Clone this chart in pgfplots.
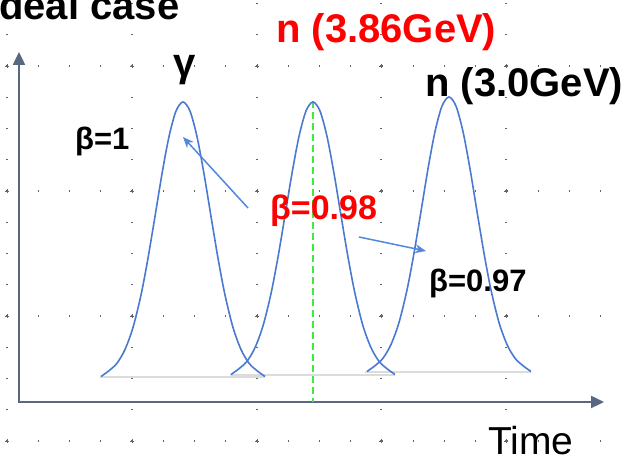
\documentclass[border=0pt]{standalone}
\usepackage{pgfplots}
\pgfplotsset{compat=1.18}
\usepackage{fontspec}
\setmainfont{Liberation Sans}
\usetikzlibrary{arrows.meta}
\definecolor{curveblue}{RGB}{74,122,208}
\definecolor{arrowblue}{RGB}{80,135,225}
\definecolor{axisgray}{RGB}{88,104,130}
\definecolor{brightgreen}{RGB}{60,235,60}
\definecolor{dotgray}{RGB}{100,100,100}
\definecolor{basegray}{RGB}{220,220,220}
\newcommand{\fs}[1]{\fontsize{#1}{#1}\selectfont}
\begin{document}
\begin{tikzpicture}
\begin{axis}[
  scale only axis, width=630pt, height=460pt,
  xmin=0, xmax=630, ymin=0, ymax=460,
  axis line style={draw=none},
  tick style={draw=none},
  xtick={7,132,257,381,506}, ytick={19,144,269,394},
  xticklabels={}, yticklabels={},
  grid=major,
  major x grid style={draw=dotgray, line width=1.3pt, line cap=butt, dash pattern=on 1.3pt off 29.95pt, dash phase=12.9pt},
  major y grid style={draw=dotgray, line width=1.3pt, line cap=butt, dash pattern=on 1.3pt off 29.95pt, dash phase=24.9pt},
  clip=false,
]
% major grid crosses
\addplot[only marks, mark=+, mark size=2.2pt, dotgray, mark options={line width=0.8pt}] coordinates {
 (7,19) (132,19) (257,19) (381,19) (506,19)
 (7,144) (132,144) (257,144) (381,144) (506,144)
 (7,269) (132,269) (257,269) (381,269) (506,269)
 (7,394) (132,394) (257,394) (381,394) (506,394)
};
% base lines
\addplot[basegray, line width=1.2pt] coordinates {(100,83) (265,83)};
\addplot[basegray, line width=1.2pt] coordinates {(230,85) (395,85)};
\addplot[basegray, line width=1.2pt] coordinates {(365,88) (531,88)};
% axes arrows
\addplot[axisgray, line width=2.4pt, -{Triangle[length=13pt,width=12pt]}] coordinates {(19,57) (19,408)};
\addplot[axisgray, line width=2.4pt, -{Triangle[length=13pt,width=12pt]}] coordinates {(18,58) (604,58)};
% green dashed line
\addplot[brightgreen, line width=2pt, dash pattern=on 7pt off 4pt] coordinates {(313,359) (313,58)};
% peak 1: gamma
\addplot[curveblue, line width=1.6pt, smooth] coordinates {
 (101,83.5) (109,89.3) (117,96.8) (125,110.5) (133,132.5) (141,165.0) (148,201.8) (155,243.6) (162,286.2) (169,323.4) (176,348.9)
 (183,358)
 (190,348.9) (197,323.4) (204,286.2) (211,243.6) (218,201.8) (225,165.0) (233,132.5) (241,110.5) (249,96.8) (257,89.3) (265,83.5)
};
% peak 2: n 3.86 GeV
\addplot[curveblue, line width=1.6pt, smooth] coordinates {
 (231,85.5) (239,91.3) (247,98.7) (255,112.3) (263,134.1) (271,166.4) (278,202.9) (285,244.4) (292,286.7) (299,323.6) (306,349.0)
 (313,358)
 (320,349.0) (327,323.6) (334,286.7) (341,244.4) (348,202.9) (355,166.4) (363,134.1) (371,112.3) (379,98.7) (387,91.3) (395,85.5)
};
% peak 3: n 3.0 GeV
\addplot[curveblue, line width=1.6pt, smooth] coordinates {
 (367,88.5) (375,94.3) (383,101.8) (391,115.5) (399,137.5) (407,170.0) (414,206.8) (421,248.6) (428,291.2) (435,328.4) (442,353.9)
 (449,363)
 (456,353.9) (463,328.4) (470,291.2) (477,248.6) (484,206.8) (491,170.0) (499,137.5) (507,115.5) (515,101.8) (523,94.3) (531,88.5)
};
% annotation arrows
\draw[arrowblue, line width=1.5pt, -{Stealth[length=11pt,width=9pt]}] (axis cs:248,252) -- (axis cs:183,323);
\draw[arrowblue, line width=1.5pt, -{Stealth[length=11pt,width=9pt]}] (axis cs:359,223) -- (axis cs:426,209);
% texts
\node[anchor=base west, inner sep=0pt, font=\fs{40}\bfseries] at (axis cs:-12,440) {Ideal case};
\node[anchor=base west, inner sep=0pt, font=\fs{40}\bfseries, text=red] at (axis cs:276,417) {n (3.86GeV)};
\node[anchor=base, inner sep=0pt, font=\fs{40}\bfseries] at (axis cs:185,383) {γ};
\node[anchor=base west, inner sep=0pt, font=\fs{40}\bfseries] at (axis cs:425,363) {n (3.0GeV)};
\node[anchor=base west, inner sep=0pt, font=\fs{31}\bfseries] at (axis cs:75,310) {β=1};
\node[anchor=base west, inner sep=0pt, font=\fs{34}\bfseries, text=red] at (axis cs:270,240) {β=0.98};
\node[anchor=base west, inner sep=0pt, font=\fs{31}\bfseries] at (axis cs:429,168) {β=0.97};
\node[anchor=base west, inner sep=0pt, font=\fs{39}] at (axis cs:488,5) {Time};
\end{axis}
\pgfresetboundingbox
\path[use as bounding box] (current axis.south west) rectangle (current axis.north east);
\end{tikzpicture}
\end{document}
